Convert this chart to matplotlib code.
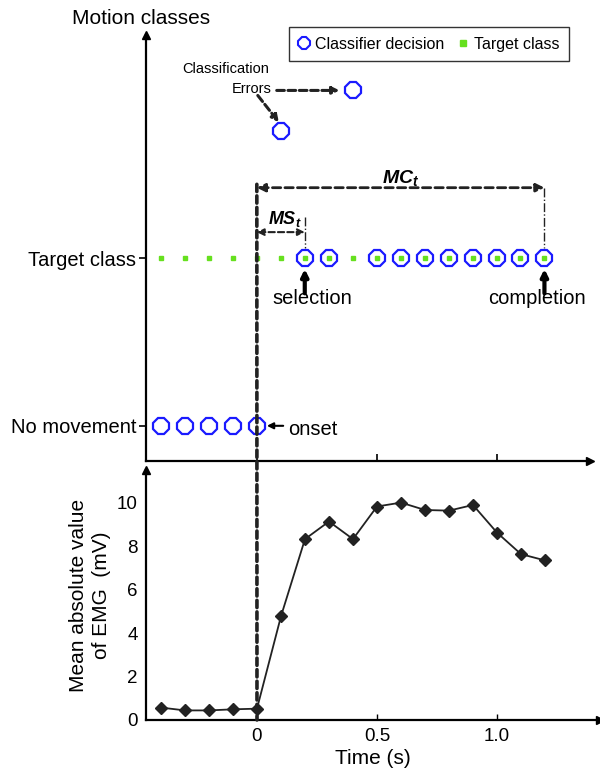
import numpy as np
import matplotlib
matplotlib.use("Agg")
import matplotlib.pyplot as plt
from matplotlib.lines import Line2D
from matplotlib.patches import ConnectionPatch

plt.rcParams['font.family'] = ['Liberation Sans', 'DejaVu Sans']
plt.rcParams['mathtext.fontset'] = 'custom'
plt.rcParams['mathtext.it'] = 'Liberation Sans:italic:bold'
plt.rcParams['mathtext.rm'] = 'Liberation Sans:bold'

# data
time = [-0.4, -0.3, -0.2, -0.1, 0.0, 0.1, 0.2, 0.3, 0.4,
        0.5, 0.6, 0.7, 0.8, 0.9, 1.0, 1.1, 1.2]
decision = [0, 0, 0, 0, 0, 1.76, 1, 1, 2.0, 1, 1, 1, 1, 1, 1, 1, 1]
target = [1] * len(time)
emg = [0.57, 0.44, 0.44, 0.49, 0.52, 4.77, 8.32, 9.13, 8.32,
       9.82, 10.0, 9.66, 9.63, 9.89, 8.62, 7.63, 7.34]
class_ticks = [0, 1]
class_labels = ["No movement", "Target class"]
emg_ticks = [0, 2, 4, 6, 8, 10]
time_ticks = [0, 0.5, 1.0]
time_labels = ["0", "0.5", "1.0"]

blue = "#1a1aff"
green = "#66e01e"
dark = "#222222"

fig = plt.figure(figsize=(6, 7.73), dpi=100)
ax1 = fig.add_axes([0.2433, 0.4036, 0.74, 0.551])
ax2 = fig.add_axes([0.2433, 0.0686, 0.757, 0.3234])

# ---- top panel: motion classes
ax1.plot(time, target, ls="none", marker="s", ms=3.5, color=green, zorder=3)
ax1.plot(time, decision, ls="none", marker="8", ms=12.5, mfc="none",
         mec=blue, mew=1.6, zorder=4)
ax1.set_xlim(-0.4625, 1.39)
ax1.set_ylim(-0.21, 2.33)
ax1.set_yticks(class_ticks)
ax1.set_yticklabels(class_labels, fontsize=14.5)
ax1.set_xticks(time_ticks)
ax1.set_xticklabels([])
ax1.tick_params(axis="x", direction="in", length=5, width=1.2)
ax1.tick_params(axis="y", direction="out", length=5, width=1.2, pad=2)

# ---- bottom panel: EMG
ax2.plot(time, emg, color=dark, lw=1.3, marker="D", ms=6, zorder=3)
ax2.set_xlim(-0.4625, 1.43)
ax2.set_ylim(0, 11.5)
ax2.set_yticks(emg_ticks)
ax2.set_yticklabels([str(v) for v in emg_ticks], fontsize=13.5)
ax2.set_xticks(time_ticks)
ax2.set_xticklabels(time_labels, fontsize=13.5)
ax2.tick_params(axis="x", direction="in", length=4, width=1.0, pad=6)
ax2.tick_params(axis="y", direction="in", length=0, pad=6)
ax2.set_xlabel("Time (s)", fontsize=15, labelpad=3)
ax2.set_ylabel("Mean absolute value\nof EMG  (mV)", fontsize=15, labelpad=4,
               linespacing=1.3)

for ax in (ax1, ax2):
    for s in ("top", "right"):
        ax.spines[s].set_visible(False)
    for s in ("left", "bottom"):
        ax.spines[s].set_linewidth(1.6)
    ax.plot(0, 1, marker="^", ms=6, color="black", transform=ax.transAxes,
            clip_on=False)
    ax.plot(1, 0, marker=">", ms=6, color="black", transform=ax.transAxes,
            clip_on=False)

ax1.set_title("Motion classes", fontsize=15, x=-0.01, y=1.0, pad=8)

# onset dashed line crossing both panels
con = ConnectionPatch(xyA=(0, 1.44), coordsA=ax1.transData,
                      xyB=(0, 0), coordsB=ax2.transData,
                      color=dark, lw=2.6, ls=(0, (2.0, 1.2)), zorder=5)
fig.add_artist(con)

# MC_t
ax1.annotate("", xy=(1.2, 1.42), xytext=(0, 1.42),
             arrowprops=dict(arrowstyle="<|-|>", color=dark, lw=2.0,
                             ls=(0, (3, 1.5)), mutation_scale=12,
                             shrinkA=0, shrinkB=0))
ax1.plot([1.2, 1.2], [1.42, 1.06], color=dark, lw=1.0, ls="-.")
ax1.text(0.6, 1.475, r"$MC_t$", fontsize=14, ha="center", va="center")

# MS_t
ax1.annotate("", xy=(0.2, 1.155), xytext=(0, 1.155),
             arrowprops=dict(arrowstyle="<|-|>", color=dark, lw=1.5,
                             ls=(0, (3, 1.5)), mutation_scale=10,
                             shrinkA=0, shrinkB=0))
ax1.plot([0.2, 0.2], [1.245, 1.06], color=dark, lw=1.0, ls="-.")
ax1.text(0.117, 1.235, r"$MS_t$", fontsize=13, ha="center", va="center")

# selection / completion
for t in (0.2, 1.2):
    ax1.annotate("", xy=(t, 0.935), xytext=(t, 0.79),
                 arrowprops=dict(arrowstyle="-|>", color="black", lw=3,
                                 mutation_scale=10, shrinkA=0, shrinkB=0))
ax1.text(0.23, 0.762, "selection", fontsize=14.5, ha="center", va="center")
ax1.text(1.167, 0.762, "completion", fontsize=14.5, ha="center", va="center")

# onset
ax1.annotate("", xy=(0.042, 0), xytext=(0.11, 0),
             arrowprops=dict(arrowstyle="-|>", color="black", lw=1.5,
                             mutation_scale=9, shrinkA=0, shrinkB=0))
ax1.text(0.13, -0.02, "onset", fontsize=14.5, ha="left", va="center")

# classification errors
ax1.text(-0.13, 2.13, "Classification", fontsize=10.5, ha="center", va="center")
ax1.text(0.06, 2.01, "Errors", fontsize=10.5, ha="right", va="center")
ax1.annotate("", xy=(0.345, 2.0), xytext=(0.083, 2.0),
             arrowprops=dict(arrowstyle="-|>", color=dark, lw=2.2,
                             ls=(0, (2.5, 1.2)), mutation_scale=10,
                             shrinkA=0, shrinkB=0))
ax1.annotate("", xy=(0.092, 1.81), xytext=(0.004, 1.97),
             arrowprops=dict(arrowstyle="-|>", color=dark, lw=2.2,
                             ls=(0, (2.5, 1.2)), mutation_scale=10,
                             shrinkA=0, shrinkB=0))

handles = [Line2D([], [], ls="none", marker="8", ms=9, mfc="none", mec=blue,
                  mew=1.5),
           Line2D([], [], ls="none", marker="s", ms=4, color=green)]
leg = ax1.legend(handles, ["Classifier decision", "Target class"], ncol=2,
                 loc="upper left", bbox_to_anchor=(0.482, 0.965),
                 bbox_transform=fig.transFigure, fontsize=11.5,
                 frameon=True, fancybox=False, edgecolor="black",
                 handlelength=0.6, handletextpad=0.4, columnspacing=0.9,
                 borderpad=0.6, borderaxespad=0)
leg.get_frame().set_linewidth(1.0)

fig.savefig("out.png", dpi=100)
